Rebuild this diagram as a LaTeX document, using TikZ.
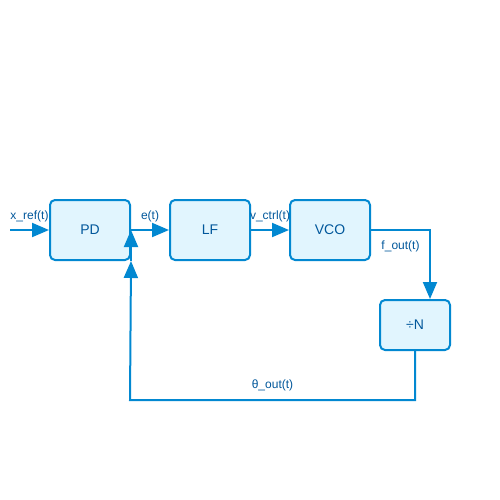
\documentclass[tikz,border=0pt]{standalone}
\usepackage{fontspec}
\setmainfont{Liberation Sans}
\usetikzlibrary{arrows.meta}
\definecolor{boxfill}{HTML}{E1F5FE}
\definecolor{boxline}{HTML}{0288D1}
\definecolor{boxtext}{HTML}{01579B}
\tikzset{
  block/.style={draw=boxline, fill=boxfill, line width=2pt, rounded corners=5pt,
    text=boxtext, font=\fontsize{14}{16}\selectfont, inner sep=0pt},
  flow/.style={draw=boxline, line width=2pt,
    -{Triangle[length=17pt,width=14pt]}},
  sig/.style={text=boxtext, font=\fontsize{12}{14}\selectfont, inner sep=0pt}
}
\begin{document}
\begin{tikzpicture}[x=1pt,y=-1pt]
  \useasboundingbox (0,0) rectangle (500,500);
  % Blocks
  \node[block, minimum width=80pt, minimum height=60pt] (pd) at (90,230) {PD};
  \node[block, minimum width=80pt, minimum height=60pt] (lf) at (210,230) {LF};
  \node[block, minimum width=80pt, minimum height=60pt] (vco) at (330,230) {VCO};
  \node[block, minimum width=70pt, minimum height=50pt] (div) at (415,325) {÷N};
  % Helper points
  \coordinate (in) at (10,230);
  \coordinate (drop) at (430,230);
  \coordinate (fb) at (130,400);
  % Forward path
  \draw[flow] (in) -- node[sig, above=7pt] (lxref) {x\_ref(t)} (pd);
  \draw[flow] (pd) -- node[sig, above=7pt] (le) {e(t)} (lf);
  \draw[flow] (lf) -- node[sig, above=7pt] (lvctrl) {v\_ctrl(t)} (vco);
  \draw[flow] (vco.east) -- node[sig, below=10pt] (lfout) {f\_out(t)} (drop) -- (div.north -| drop);
  % Feedback path
  \draw[flow] (div.south) |- node[sig, above=8pt, pos=0.75] (lthout) {θ\_out(t)} (fb) -- (pd.south east);
  \draw[flow] (pd.south east) -- (pd.east);
\end{tikzpicture}
\end{document}
